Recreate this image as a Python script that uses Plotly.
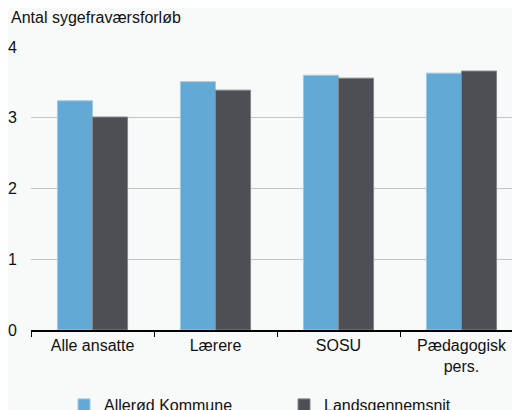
import plotly.graph_objects as go

categories = ["Alle ansatte", "Lærere", "SOSU", "Pædagogisk<br>pers."]
allerod = [3.24, 3.51, 3.60, 3.63]
lands = [3.01, 3.39, 3.56, 3.66]
y_ticks = [0, 1, 2, 3, 4]

font = "Liberation Sans, Arial, sans-serif"
bg = "#f8f9f9"

# plot area in figure pixels
L, R, T, B = 23, 5, 39, 88
pw, ph = 520 - L - R, 410 - T - B

fig = go.Figure()
fig.add_trace(go.Bar(
    x=categories, y=allerod, name="Allerød Kommune", legend="legend",
    marker=dict(color="#62aad5", line=dict(color="#9ccbe6", width=1)),
))
fig.add_trace(go.Bar(
    x=categories, y=lands, name="Landsgennemsnit", legend="legend2",
    marker=dict(color="#4e4f54", line=dict(color="#85868a", width=1)),
))

leg = dict(orientation="h", yanchor="middle", y=-75 / ph, xanchor="left",
           font=dict(size=16), itemwidth=30, bgcolor="rgba(0,0,0,0)")

fig.update_layout(
    width=520, height=410,
    margin=dict(l=L, r=R, t=T, b=B, autoexpand=False),
    paper_bgcolor=bg, plot_bgcolor=bg,
    font=dict(family=font, size=16, color="#111"),
    barmode="group", bargap=0.43, bargroupgap=0,
    showlegend=True,
    legend=dict(leg, x=(56 - L) / pw),
    legend2=dict(leg, x=(276 - L) / pw),
    annotations=[dict(text="Antal sygefraværsforløb", xref="paper", yref="paper",
                      x=-(L - 1) / pw, y=1 + 29 / ph, xanchor="left", yanchor="middle",
                      showarrow=False, font=dict(size=16))],
)
fig.update_xaxes(
    showline=True, linecolor="#000", linewidth=2, automargin=False,
    ticks="outside", tickson="boundaries", ticklen=5, tickcolor="#000",
    range=[-0.5, 3.5], showgrid=False, tickfont=dict(size=16),
)
fig.update_yaxes(
    range=[0, 4], tickvals=y_ticks, showgrid=True, gridcolor="#c4c4c4",
    gridwidth=1, zeroline=False, ticks="", ticklabelstandoff=13,
    tickfont=dict(size=16), automargin=False,
)

fig.write_html("out.html")
